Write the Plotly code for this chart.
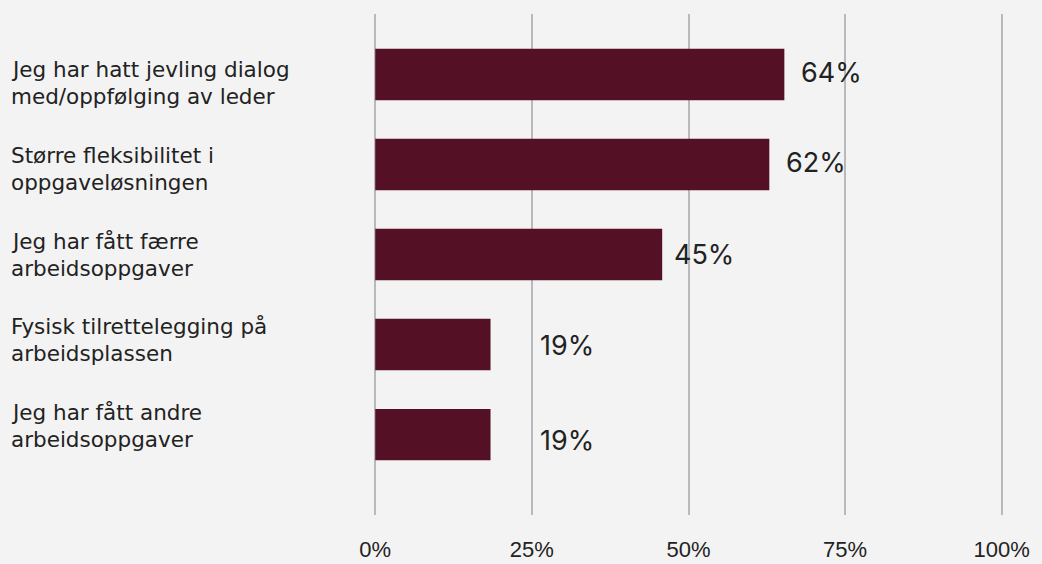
import plotly.graph_objects as go

categories = [
    ["Jeg har hatt jevling dialog", "med/oppfølging av leder"],
    ["Større fleksibilitet i", "oppgaveløsningen"],
    ["Jeg har fått færre", "arbeidsoppgaver"],
    ["Fysisk tilrettelegging på", "arbeidsplassen"],
    ["Jeg har fått andre", "arbeidsoppgaver"],
]
values = [65.3, 62.9, 45.8, 18.4, 18.4]
value_labels = ["64%", "62%", "45%", "19%", "19%"]
tick_vals = [0, 25, 50, 75, 100]
tick_text = ["0%", "25%", "50%", "75%", "100%"]

BG = "#f3f3f3"
BAR = "#541126"
GRID = "#b9b9bd"
TXT = "#222222"

W, H = 1042, 564
ml, mr, mt, mb = 374, 39, 14, 49

fig = go.Figure()
fig.add_trace(go.Bar(
    x=values, y=list(range(len(categories))), orientation="h",
    marker=dict(color=BAR, line=dict(width=0)),
    width=0.57, hoverinfo="skip",
))

annotations = []
plot_w = W - ml - mr
LINE_GAP = 27
for i, (lines, v, lab) in enumerate(zip(categories, values, value_labels)):
    base_shift = -5 - 4.25 * i  # pixels below bar centre for first line
    for j, line in enumerate(lines):
        annotations.append(dict(
            x=-(ml - 9) / plot_w, xref="paper", y=i, yref="y",
            text=line, showarrow=False, xanchor="left", yanchor="middle",
            yshift=-(base_shift + j * LINE_GAP),
            font=dict(family="DejaVu Sans, sans-serif", size=21.5, color=TXT),
        ))
    annotations.append(dict(
        x=max(v, 24.5) + (2.4 if v > 50 else 1.5), xref="x", y=i, yref="y",
        text=lab, showarrow=False, xanchor="left",
        yshift=(2 if v > 50 else (0 if v > 25 else -1 - 5 * (i - 3))),
        font=dict(family="Inter, Lato, sans-serif", size=27, color=TXT),
    ))

fig.update_layout(
    width=W, height=H,
    margin=dict(l=ml, r=mr, t=mt, b=mb, pad=0, autoexpand=False),
    paper_bgcolor=BG, plot_bgcolor=BG,
    showlegend=False,
    bargap=0.43,
    annotations=annotations,
    xaxis=dict(
        range=[-0.2, 100.2], tickvals=tick_vals, ticktext=tick_text,
        showgrid=True, gridcolor=GRID, gridwidth=2,
        zeroline=False, showline=False, ticks="",
        ticklabelstandoff=19, automargin=False,
        tickfont=dict(family="Liberation Sans Narrow, Arial Narrow, sans-serif", size=22, color=TXT),
        fixedrange=True,
    ),
    yaxis=dict(
        range=[4.894, -0.672], showticklabels=False, showgrid=False,
        zeroline=False, showline=False, ticks="", fixedrange=True, automargin=False,
    ),
)

fig.write_html(
    "out.html",
    config={"displayModeBar": False},
    post_script="document.body.style.margin='0';document.body.style.background='%s';" % BG,
)
